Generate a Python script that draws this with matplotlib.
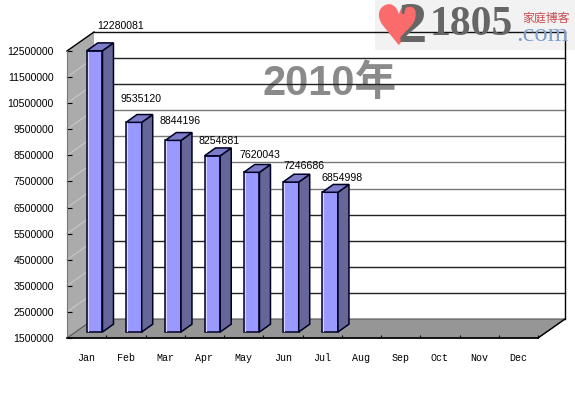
import matplotlib
matplotlib.use('Agg')
import matplotlib.pyplot as plt
from matplotlib.patches import Polygon, Rectangle

WIDTH = 575
HEIGHT = 409

months = ['Jan', 'Feb', 'Mar', 'Apr', 'May', 'Jun', 'Jul', 'Aug', 'Sep', 'Oct', 'Nov', 'Dec']
values = [12280081, 9535120, 8844196, 8254681, 7620043, 7246686, 6854998]
y_ticks = [1500000, 2500000, 3500000, 4500000, 5500000, 6500000,
           7500000, 8500000, 9500000, 10500000, 11500000, 12500000]

# label offsets from the top of each bar, in pixels
label_dx = [26, 7, 7, 7, 8, 13, 12]
label_dy = [25, 23, 19, 15, 17, 16, 14]

# grid colour for each back wall line, bottom to top
grid_colors = ['#222222', '#222222', '#222222', '#222222', '#222222', '#777777',
               '#777777', '#777777', '#777777', '#222222', '#222222', '#111111']

# depth of the 3d box and bars, in data units
DEPTH_X = 0.688
DEPTH_Y = 728000
BAR_OFF_X = 0.204
BAR_OFF_Y = 230000
BAR_DEPTH_X = 0.28
BAR_DEPTH_Y = 300000
BAR_WIDTH = 0.4


def fx(px):
    return px / WIDTH


def fy(px):
    return 1 - px / HEIGHT


def draw_bar(ax, center, value):
    """
    Draws one 3d bar from three faces.
    """
    x0 = center + BAR_OFF_X - BAR_WIDTH / 2
    x1 = x0 + BAR_WIDTH
    y0 = y_ticks[0] + BAR_OFF_Y
    y1 = value + BAR_OFF_Y
    dx = BAR_DEPTH_X
    dy = BAR_DEPTH_Y
    faces = [
        ([(x0, y0), (x1, y0), (x1, y1), (x0, y1)], '#9999ff'),
        ([(x1, y0), (x1 + dx, y0 + dy), (x1 + dx, y1 + dy), (x1, y1)], '#666699'),
        ([(x0, y1), (x1, y1), (x1 + dx, y1 + dy), (x0 + dx, y1 + dy)], '#7c7cc8'),
    ]
    for points, color in faces:
        ax.add_patch(Polygon(points, closed=True, facecolor=color, edgecolor='#000022',
                             linewidth=1.1, zorder=4, clip_on=False))
    # light line just inside the left edge of the front
    inset = 0.03
    ax.plot([x0 + inset, x0 + inset], [y0 + 40000, y1 - 40000], color='#d4d4ff',
            linewidth=0.8, zorder=4.5, clip_on=False)
    return (x0 + x1) / 2, y1


fig = plt.figure(figsize=(WIDTH / 100, HEIGHT / 100), dpi=100)
ax = fig.add_axes([fx(67), fy(338), (538 - 67) / WIDTH, (338 - 51) / HEIGHT])
ax.set_xlim(0, 12)
ax.set_ylim(y_ticks[0], y_ticks[-1])
ax.patch.set_visible(False)
for side in ['top', 'right', 'left']:
    ax.spines[side].set_visible(False)
ax.spines['bottom'].set_linewidth(1.2)
ax.spines['bottom'].set_zorder(5)

bottom = y_ticks[0]
top = y_ticks[-1]

# walls and floor
ax.add_patch(Polygon([(0, bottom), (DEPTH_X, bottom + DEPTH_Y), (DEPTH_X, top + DEPTH_Y), (0, top)],
                     closed=True, facecolor='#ababab', edgecolor='none',
                     zorder=1, clip_on=False))
ax.add_patch(Polygon([(0, bottom), (DEPTH_X, bottom + DEPTH_Y), (12 + DEPTH_X, bottom + DEPTH_Y), (12, bottom)],
                     closed=True, facecolor='#969696', edgecolor='#555555', linewidth=0.8,
                     zorder=1, clip_on=False))

ax.text(8.41, 11230000, '2010年', color='#8a8a8a', fontsize=30, fontweight='bold',
        family=['Liberation Sans', 'Noto Sans CJK SC'], ha='right', va='center', zorder=1.5,
        transform=ax.transData)

for tick, color in zip(y_ticks, grid_colors):
    if tick > bottom:
        ax.plot([DEPTH_X, 12 + DEPTH_X], [tick + DEPTH_Y, tick + DEPTH_Y], color=color,
                linewidth=1.0, zorder=2, clip_on=False)
        ax.plot([0, DEPTH_X], [tick, tick + DEPTH_Y], color='#c4c4c4',
                linewidth=0.9, zorder=1.2, clip_on=False)

ax.plot([12 + DEPTH_X, 12 + DEPTH_X], [bottom + DEPTH_Y, top + DEPTH_Y], color='black',
        linewidth=1.0, zorder=2, clip_on=False)
ax.plot([0, DEPTH_X], [top, top + DEPTH_Y], color='black', linewidth=1.0, zorder=2, clip_on=False)
ax.plot([12, 12 + DEPTH_X], [bottom, bottom + DEPTH_Y], color='black', linewidth=1.0, zorder=2, clip_on=False)
ax.plot([0, 0], [bottom, top], color='#777777', linewidth=0.8, zorder=2, clip_on=False)

# bars and their labels
for i, value in enumerate(values):
    x_top, y_top = draw_bar(ax, i + 0.5, value)
    ax.annotate(str(value), xy=(x_top, y_top), xytext=(label_dx[i], label_dy[i]),
                textcoords='offset pixels', ha='center', va='center', fontsize=7.6,
                family='Liberation Sans', color='black', zorder=6, annotation_clip=False)

# ticks on the front edge, month names between them
ax.set_yticks(y_ticks)
ax.set_yticklabels([str(t) for t in y_ticks], fontsize=7.6, family='Liberation Sans')
ax.tick_params(axis='y', direction='in', length=3.6, width=0.8, pad=9.5)
ax.set_xticks(range(13))
ax.set_xticklabels([])
ax.tick_params(axis='x', which='major', direction='in', length=2.4, width=0.8)
ax.set_xticks([i + 0.5 for i in range(12)], minor=True)
ax.set_xticklabels(months, minor=True, fontsize=7.2, family='Liberation Mono')
ax.tick_params(axis='x', which='minor', length=0, pad=11)

# watermark in the corner
fig.add_artist(Rectangle((fx(375), fy(50)), 200 / WIDTH, 50 / HEIGHT, transform=fig.transFigure,
                         facecolor='#f2f2f2', edgecolor='none', zorder=-1))
fig.text(fx(398), fy(30), '♥', color='#fb6b6b', fontsize=40, family='DejaVu Sans',
         ha='center', va='center', zorder=6)
fig.text(fx(412), fy(28), '2', color='#666666', fontsize=42, fontweight='bold',
         family='Liberation Serif', ha='center', va='center', zorder=7)
fig.text(fx(430), fy(25), '1805', color='#666666', fontsize=30, fontweight='bold',
         family='Liberation Serif', ha='left', va='center', zorder=7)
fig.text(fx(516), fy(35), '.com', color='#7f9fca', fontsize=19,
         family='Liberation Serif', ha='left', va='center', zorder=7)
fig.text(fx(522), fy(18), '家庭博客', color='#c84a50', fontsize=8.6,
         family='Noto Sans CJK SC', ha='left', va='center', zorder=7)

fig.savefig('out.png', dpi=100, facecolor='white')
